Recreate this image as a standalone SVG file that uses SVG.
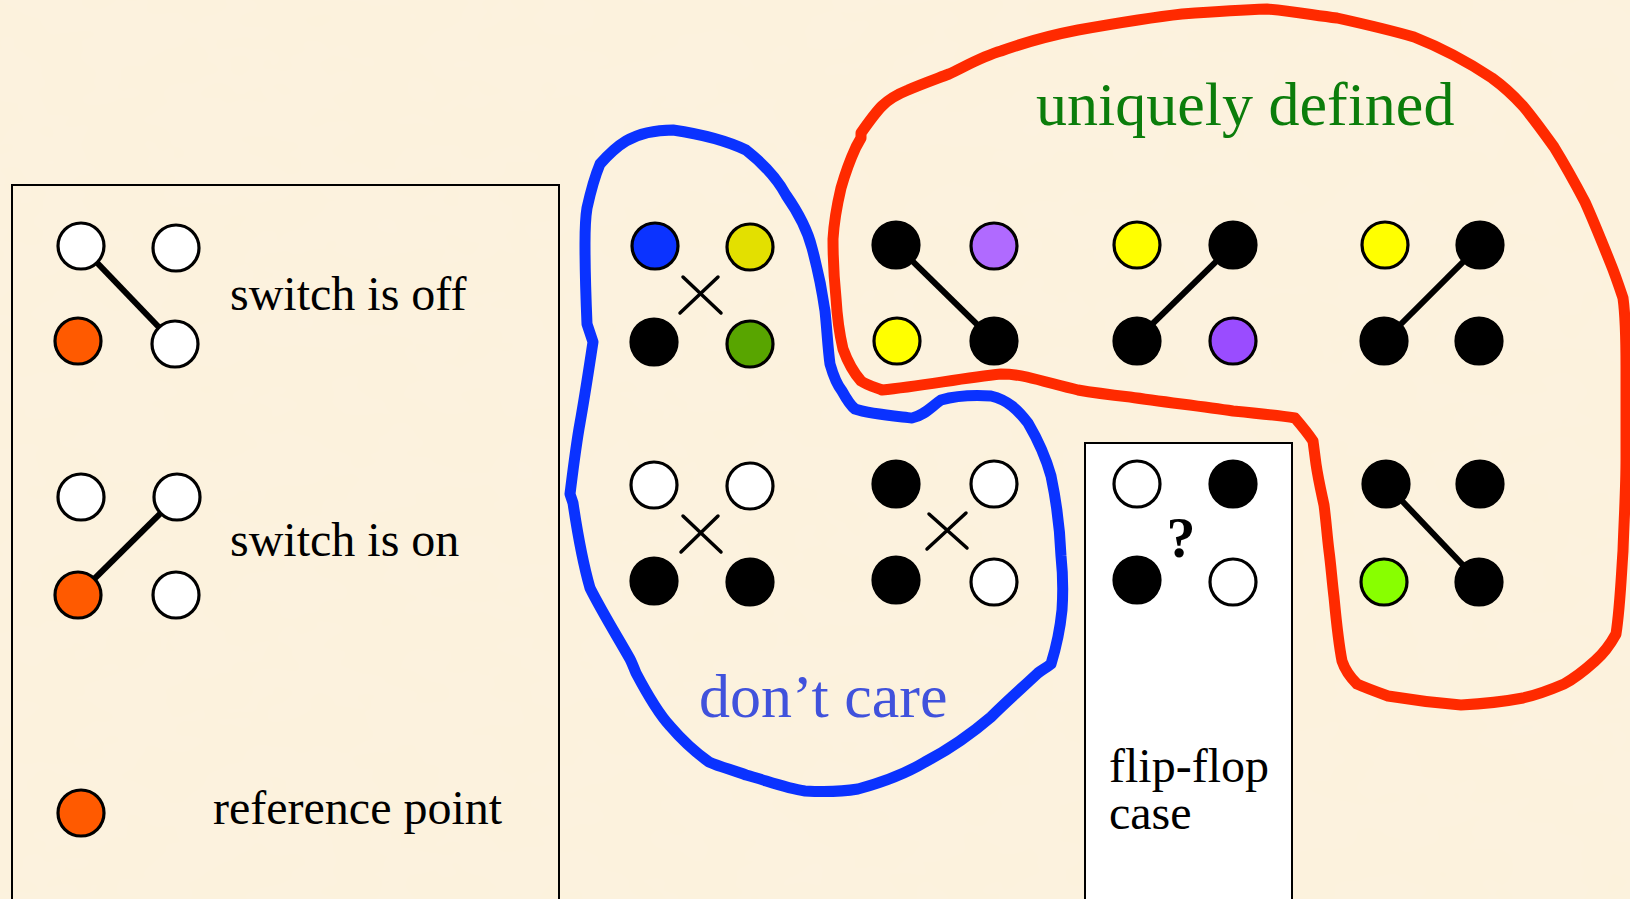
<svg xmlns="http://www.w3.org/2000/svg" width="1630" height="899" viewBox="0 0 1630 899">
  <defs>
    <filter id="parchment" x="0" y="0" width="100%" height="100%">
      <feTurbulence type="fractalNoise" baseFrequency="0.012 0.02" numOctaves="3" seed="7" result="n"/>
      <feColorMatrix in="n" type="matrix" values="0 0 0 0 0.96  0 0 0 0 0.90  0 0 0 0 0.78  0 0 0 0.35 0"/>
    </filter>
  </defs>
  <style>
    .node { stroke: #000; stroke-width: 3.2; }
    .off { fill: #ffffff; }
    .on { fill: #000000; }
    .ref { fill: #ff5a00; }
    .link { stroke: #000; stroke-width: 6; stroke-linecap: butt; }
    .cross { stroke: #000; stroke-width: 3.5; stroke-linecap: round; }
    .label { font-family: "Liberation Serif", "Times New Roman", serif; fill: #000; }
    .panel { fill: #ffffff; stroke: #000; stroke-width: 2; }
    .loop { fill: none; stroke-width: 11; stroke-linejoin: round; stroke-linecap: round; }
  </style>

  <!-- parchment background -->
  <rect x="0" y="0" width="1630" height="899" fill="#fcf2dc"/>
  <rect x="0" y="0" width="1630" height="899" filter="url(#parchment)"/>

  <!-- legend panel -->
  <g id="legend">
    <rect x="12" y="185" width="547" height="716" fill="none" stroke="#000" stroke-width="2"/>
    <g id="legend-off">
      <line class="link" x1="81" y1="246" x2="175" y2="344"/>
      <circle class="node off" cx="81" cy="246" r="23"/>
      <circle class="node off" cx="176" cy="248" r="23"/>
      <circle class="node ref" cx="78" cy="341" r="23"/>
      <circle class="node off" cx="175" cy="344" r="23"/>
      <text class="label" x="230" y="310" font-size="48">switch is off</text>
    </g>
    <g id="legend-on">
      <line class="link" x1="78" y1="595" x2="177" y2="497" stroke-width="7"/>
      <circle class="node off" cx="81" cy="497" r="23"/>
      <circle class="node off" cx="177" cy="497" r="23"/>
      <circle class="node ref" cx="78" cy="595" r="23"/>
      <circle class="node off" cx="176" cy="595" r="23"/>
      <text class="label" x="230" y="556" font-size="48">switch is on</text>
    </g>
    <g id="legend-ref">
      <circle class="node ref" cx="81" cy="813" r="23"/>
      <text class="label" x="213" y="824" font-size="48">reference point</text>
    </g>
  </g>

  <!-- enclosing loops -->
  <g id="connectors">
    <path id="dont-care-loop" class="loop" stroke="#0a32ff" d="M673,130 C700,134 725,140 746,150 C765,165 778,180 786,195 C800,215 808,232 812,248 C818,270 822,290 825,311 C827,330 828,350 830,364 C834,378 838,386 842,391 C847,400 851,406 855,409 C870,414 895,416 912,418 C925,415 932,406 941,400 C955,396 975,395 991,396 C1008,400 1018,410 1028,423 C1038,440 1046,458 1051,476 C1056,500 1060,530 1061,556 C1063,575 1063,595 1062,610 C1060,630 1056,648 1051,664 C1046,668 1042,670 1038,673 C1022,688 1006,702 991,717 C970,735 948,750 925,762 C905,774 880,783 858,789 C840,792 822,792 805,791 C785,788 765,780 746,775 C733,770 720,767 709,762 C695,752 682,740 670,726 C657,712 645,690 636,673 C634,668 632,663 630,659 C617,636 602,612 590,588 C582,560 577,530 573,503 L570,494 C573,470 576,445 580,423 C585,395 589,368 593,342 L587,324 C586,300 585,270 585,244 C585,232 585,220 587,208 C591,190 595,176 600,164 C608,155 616,147 626,141 C640,133 655,130 673,130 Z"/>
    <path id="unique-loop" class="loop" stroke="#ff2a00" d="M861,133 C868,123 875,113 882,106 C890,98 898,94 908,90 C922,84 936,79 949,74 C966,66 983,56 1001,51 C1026,42 1052,35 1078,30 C1112,24 1146,18 1182,14 C1210,12 1240,10 1267,9 C1290,11 1313,15 1337,18 C1364,24 1390,30 1414,37 C1442,48 1468,62 1492,78 C1503,86 1513,95 1523,106 C1534,119 1544,133 1554,147 C1565,165 1575,183 1585,202 C1594,222 1602,242 1610,262 C1615,274 1619,286 1623,298 C1626,320 1626,344 1626,367 C1626,398 1626,428 1626,459 C1626,490 1624,520 1623,551 C1621,580 1620,608 1616,634 C1610,645 1603,654 1595,661 C1585,670 1575,678 1564,684 C1550,690 1536,695 1523,698 C1502,702 1481,704 1461,705 C1436,703 1412,700 1388,696 C1377,692 1366,688 1357,684 C1350,677 1345,670 1342,661 C1338,640 1336,618 1334,597 C1332,581 1331,566 1329,551 C1327,535 1326,520 1324,505 C1321,491 1318,478 1316,464 L1313,441 C1307,432 1301,425 1295,418 C1275,415 1254,413 1233,411 C1199,406 1164,402 1130,397 C1112,395 1095,393 1078,390 C1061,386 1044,381 1027,377 C1018,375 1010,374 1001,374 C962,378 922,386 882,390 C874,387 867,385 861,381 C853,372 847,360 843,349 C839,332 837,315 836,298 C834,278 833,259 833,239 C834,222 837,205 841,188 C845,174 850,160 856,147 L861,138 Z"/>
  </g>

  <text id="title-unique" x="1036" y="125" font-family="Liberation Serif, Times New Roman, serif" font-size="62" fill="#0b7d0b">uniquely defined</text>
  <text id="title-dontcare" x="699" y="717" font-family="Liberation Serif, Times New Roman, serif" font-size="62" fill="#4052dc">don’t care</text>

  <!-- don't care configurations -->
  <g id="dc-colored">
    <line class="cross" x1="680" y1="313" x2="718" y2="277"/>
    <line class="cross" x1="683" y1="277" x2="721" y2="313"/>
    <circle class="node" fill="#0b33ff" cx="655" cy="246" r="23"/>
    <circle class="node" fill="#e3e000" cx="750" cy="247" r="23"/>
    <circle class="node on" cx="654" cy="342" r="23"/>
    <circle class="node" fill="#58a500" cx="750" cy="344" r="23"/>
  </g>
  <g id="dc-white-top">
    <line class="cross" x1="681" y1="552" x2="718" y2="516"/>
    <line class="cross" x1="683" y1="516" x2="721" y2="552"/>
    <circle class="node off" cx="654" cy="485" r="23"/>
    <circle class="node off" cx="750" cy="486" r="23"/>
    <circle class="node on" cx="654" cy="581" r="23"/>
    <circle class="node on" cx="750" cy="582" r="23"/>
  </g>
  <g id="dc-white-right">
    <line class="cross" x1="927" y1="549" x2="966" y2="513"/>
    <line class="cross" x1="929" y1="514" x2="967" y2="548"/>
    <circle class="node on" cx="896" cy="484" r="23"/>
    <circle class="node off" cx="994" cy="484" r="23"/>
    <circle class="node on" cx="896" cy="580" r="23"/>
    <circle class="node off" cx="994" cy="582" r="23"/>
  </g>

  <!-- uniquely defined configurations -->
  <g id="ud-a">
    <line class="link" x1="896" y1="245" x2="994" y2="341"/>
    <circle class="node on" cx="896" cy="245" r="23"/>
    <circle class="node" fill="#b06aff" cx="994" cy="246" r="23"/>
    <circle class="node" fill="#ffff00" cx="897" cy="341" r="23"/>
    <circle class="node on" cx="994" cy="341" r="23"/>
  </g>
  <g id="ud-b">
    <line class="link" x1="1137" y1="339" x2="1233" y2="245"/>
    <circle class="node" fill="#ffff00" cx="1137" cy="245" r="23"/>
    <circle class="node on" cx="1233" cy="245" r="23"/>
    <circle class="node on" cx="1137" cy="341" r="23"/>
    <circle class="node" fill="#9a4cff" cx="1233" cy="341" r="23"/>
  </g>
  <g id="ud-c">
    <line class="link" x1="1384" y1="341" x2="1480" y2="245"/>
    <circle class="node" fill="#ffff00" cx="1385" cy="245" r="23"/>
    <circle class="node on" cx="1480" cy="245" r="23"/>
    <circle class="node on" cx="1384" cy="341" r="23"/>
    <circle class="node on" cx="1479" cy="341" r="23"/>
  </g>
  <g id="ud-d">
    <line class="link" x1="1386" y1="484" x2="1479" y2="582"/>
    <circle class="node on" cx="1386" cy="484" r="23"/>
    <circle class="node on" cx="1480" cy="484" r="23"/>
    <circle class="node" fill="#88ff00" cx="1384" cy="582" r="23"/>
    <circle class="node on" cx="1479" cy="582" r="23"/>
  </g>

  <!-- flip-flop case -->
  <g id="flip-flop">
    <rect class="panel" x="1085" y="443" width="207" height="460"/>
    <circle class="node off" cx="1137" cy="484" r="23"/>
    <circle class="node on" cx="1233" cy="484" r="23"/>
    <circle class="node on" cx="1137" cy="580" r="23"/>
    <circle class="node off" cx="1233" cy="582" r="23"/>
    <text class="label" x="1181" y="557" font-size="58" font-weight="bold" text-anchor="middle">?</text>
    <text class="label" x="1109" y="782" font-size="48">flip-flop</text>
    <text class="label" x="1109" y="829" font-size="48">case</text>
  </g>
</svg>
